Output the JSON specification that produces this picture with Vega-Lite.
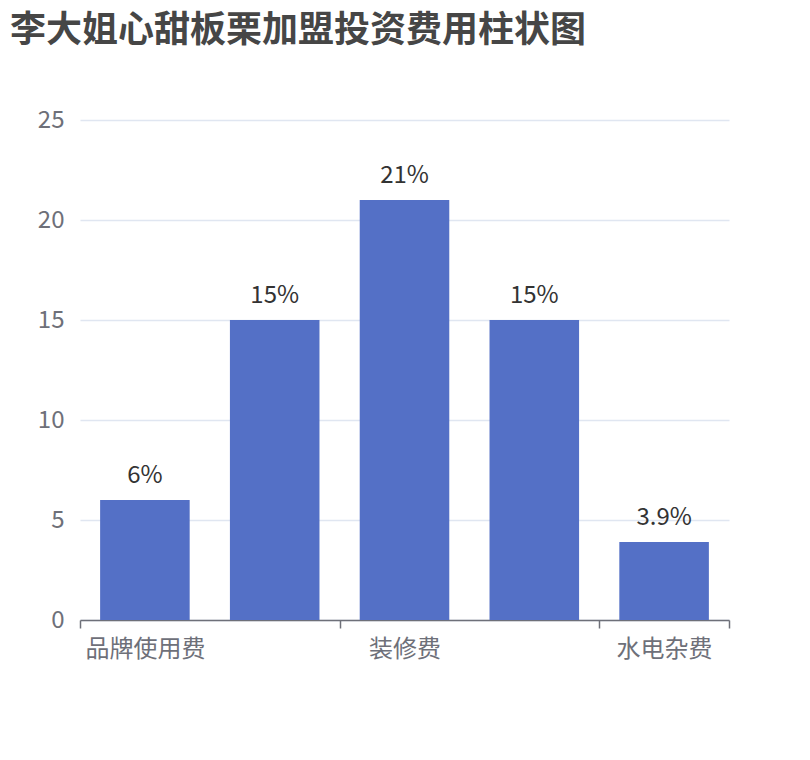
{
  "$schema": "https://vega.github.io/schema/vega-lite/v6.json",
  "autosize": "none",
  "width": 649,
  "height": 500,
  "padding": {"left": 80, "top": 120, "right": 81, "bottom": 140},
  "background": "white",
  "title": {
    "text": "李大姐心甜板栗加盟投资费用柱状图",
    "anchor": "start",
    "frame": "group",
    "font": "Noto Sans CJK SC",
    "fontSize": 36,
    "fontWeight": "bold",
    "color": "#464646",
    "dx": -70,
    "offset": 58
  },
  "data": {
    "values": [
      {"item": "品牌使用费", "value": 6, "label": "6%"},
      {"item": "加盟费", "value": 15, "label": "15%"},
      {"item": "装修费", "value": 21, "label": "21%"},
      {"item": "设备费", "value": 15, "label": "15%"},
      {"item": "水电杂费", "value": 3.9, "label": "3.9%"}
    ]
  },
  "encoding": {
    "x": {
      "field": "item",
      "type": "nominal",
      "sort": null,
      "title": null,
      "scale": {"paddingInner": 0, "paddingOuter": 0},
      "axis": {
        "labelAngle": 0,
        "labelFont": "Noto Sans CJK SC",
        "labelFontSize": 24,
        "labelColor": "#6E7079",
        "labelPadding": 9,
        "labelExpr": "datum.value === '加盟费' || datum.value === '设备费' ? '' : datum.label",
        "domainColor": "#6E7079",
        "domainWidth": 1.5,
        "tickColor": "#6E7079",
        "tickWidth": 1.5,
        "tickSize": 8,
        "tickBand": "extent",
        "tickOpacity": {"condition": {"test": "datum.value === '品牌使用费' || datum.value === '装修费'", "value": 0}, "value": 1}
      }
    },
    "y": {
      "field": "value",
      "type": "quantitative",
      "title": null,
      "scale": {"domain": [0, 25]},
      "axis": {
        "values": [0, 5, 10, 15, 20, 25],
        "labelFont": "Noto Sans CJK SC",
        "labelFontSize": 24,
        "labelColor": "#6E7079",
        "labelPadding": 16,
        "domain": false,
        "ticks": false,
        "gridColor": "#E0E6F1",
        "gridWidth": 1.5
      }
    }
  },
  "layer": [
    {"mark": {"type": "bar", "color": "#5470C6", "width": {"band": 0.69}}},
    {
      "mark": {"type": "text", "dy": -24, "font": "Noto Sans CJK SC", "fontSize": 24, "color": "#333333"},
      "encoding": {"text": {"field": "label"}}
    }
  ],
  "config": {"view": {"stroke": null}}
}
